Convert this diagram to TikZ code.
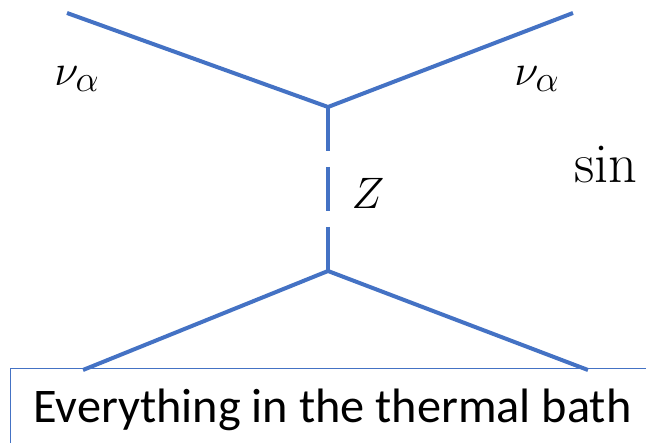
\documentclass[tikz,border=0pt]{standalone}
\usepackage{fontspec}
\newfontfamily\bathfont{Carlito}
\usepackage{tikz}
\usetikzlibrary{positioning}
\definecolor{LineBlue}{RGB}{68,114,196}
\tikzset{
  leg/.style={line width=4pt, LineBlue},
  prop/.style={leg, dash pattern=on 44pt off 16pt},
  mlabel/.style={font=\Huge, scale=1.77, inner sep=0pt},
  bathbox/.style={draw=LineBlue, line width=1.3pt, anchor=north west, minimum width=700pt, minimum height=100pt},
  bathtxt/.style={font=\bathfont\fontsize{48.3}{52}\selectfont, anchor=base west, inner sep=0pt},
}
\begin{document}
\begin{tikzpicture}[x=1pt, y=-1pt]
  \useasboundingbox (0,0) rectangle (646,443);
  \clip (0,0) rectangle (646,443);
  % vertices and external legs
  \coordinate (vtop) at (328,107);
  \coordinate (vbot) at (328,271);
  \coordinate (nuL) at (67,13);
  \coordinate (nuR) at (573,13);
  \coordinate (bathL) at (83,370);
  \coordinate (bathR) at (588,370);
  \draw[leg] (nuL) -- (vtop) -- (nuR);
  \draw[leg] (bathL) -- (vbot) -- (bathR);
  \draw[prop] (vtop) -- (vbot);
  % labels
  \node[mlabel] (labL) at (77,79) {$\nu_\alpha$};
  \node[mlabel] (labR) at (537,79) {$\nu_\alpha$};
  \node[mlabel] (labZ) at (368,193) {$Z$};
  \node[mlabel, scale=1.28, anchor=base west] (sin) at (574,183) {$\sin$};
  % thermal bath box
  \node[bathbox] (bath) at (10,368) {};
  \node[bathtxt] (bathtext) at (33,423) {Everything in the thermal bath};
\end{tikzpicture}
\end{document}
